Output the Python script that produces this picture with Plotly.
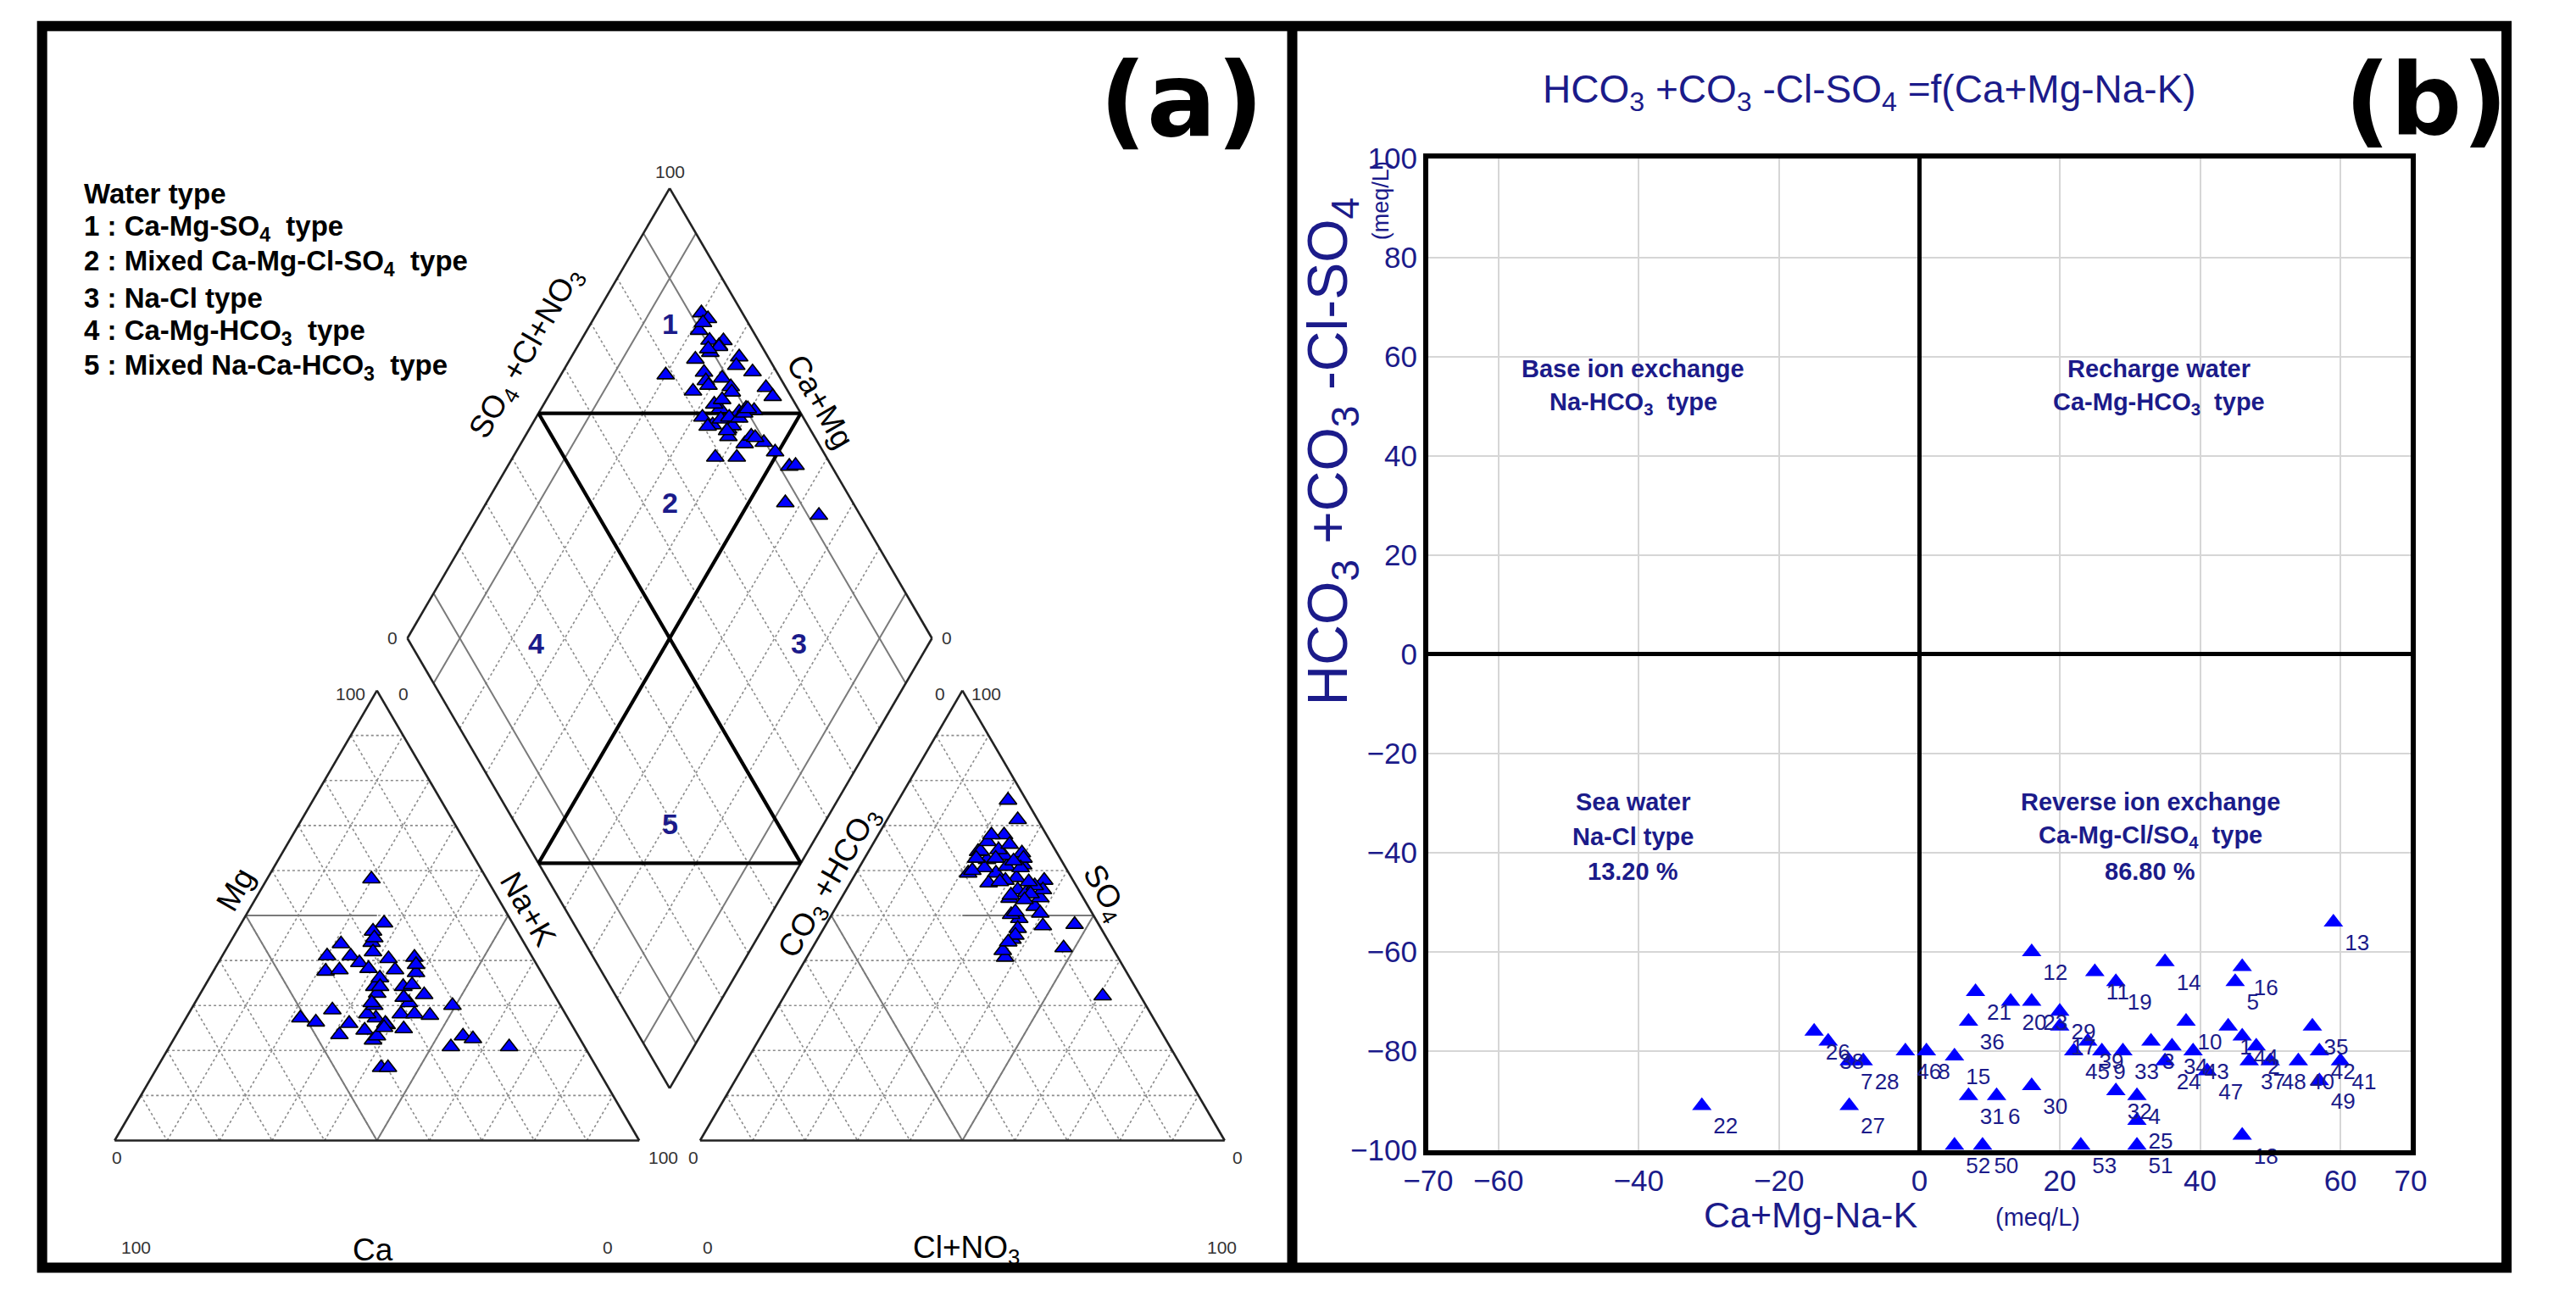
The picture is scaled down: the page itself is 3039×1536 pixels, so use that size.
import numpy as np
import plotly.graph_objects as go

W, H = 3039, 1536
NAVY = "#1b1b8a"
BLUE = "#0000ff"
FONT = "Liberation Sans, Arial, sans-serif"

# ---------------- Piper data (% of meq) ----------------
sample_id = list(range(1, 54))
ca_pct = [22.0, 51.0, 41.0, 34.5, 24.5, 38.2, 33.6, 27.5, 44.0, 27.6,
          29.0, 33.4, 36.6, 39.0, 28.0, 29.8, 45.4, 33.6, 37.8, 31.4,
          35.5, 31.4, 24.8, 42.3, 27.6, 40.1, 39.6, 35.3, 27.9, 38.4,
          28.6, 23.9, 41.1, 35.4, 32.5, 28.8, 26.0, 20.6, 25.5, 22.0,
          20.4, 14.4, 32.3, 22.5, 36.1, 35.7, 29.0, 32.5, 35.0, 48.5,
          23.0, 26.0, 39.8]
mg_pct = [58.1, 27.2, 37.6, 41.0, 48.3, 37.9, 39.5, 46.5, 29.0, 40.4,
          44.0, 34.2, 27.2, 41.0, 45.0, 41.9, 23.5, 32.7, 28.1, 36.1,
          30.0, 28.1, 32.4, 26.0, 37.9, 24.5, 22.3, 25.7, 34.2, 23.2,
          30.6, 37.3, 16.2, 26.0, 24.8, 28.1, 27.8, 30.0, 20.8, 23.2,
          22.6, 20.8, 34.2, 40.7, 25.1, 30.6, 31.8, 38.2, 43.7, 26.3,
          39.1, 34.6, 16.2]
nak_pct = [19.9, 21.8, 21.4, 24.5, 27.2, 23.9, 26.9, 26.0, 27.0, 32.0,
           27.0, 32.4, 36.2, 20.0, 27.0, 28.3, 31.1, 33.7, 34.1, 32.5,
           34.5, 40.5, 42.8, 31.7, 34.5, 35.4, 38.1, 39.0, 37.9, 38.4,
           40.8, 38.8, 42.7, 38.6, 42.7, 43.1, 46.2, 49.4, 53.7, 54.8,
           57.0, 64.8, 33.5, 36.8, 38.8, 33.7, 39.2, 29.3, 21.3, 25.2,
           37.9, 39.4, 44.0]
hco3_pct = [7.8, 7.2, 10.2, 9.3, 6.7, 14.1, 8.1, 10.5, 8.2, 5.5,
            13.9, 7.0, 4.6, 21.5, 18.1, 14.5, 11.1, 10.4, 14.9, 15.5,
            10.8, 3.8, 3.5, 19.2, 18.1, 15.9, 11.6, 9.9, 15.6, 14.4,
            8.6, 16.4, 14.1, 21.2, 17.1, 12.0, 10.3, 9.2, 8.1, 6.8,
            12.9, 7.9, 13.5, 14.1, 12.3, 19.2, 10.8, 14.5, 8.6, 10.5,
            16.0, 9.6, 11.4]
so4_pct = [61.2, 32.1, 52.0, 42.8, 63.9, 62.4, 67.9, 58.4, 53.9, 57.8,
           59.4, 62.7, 48.0, 40.7, 44.7, 49.3, 60.9, 63.3, 64.2, 60.6,
           64.6, 71.3, 75.6, 59.4, 60.0, 47.1, 55.7, 50.5, 50.2, 64.3,
           60.6, 57.2, 53.8, 42.2, 45.6, 66.4, 55.1, 62.1, 65.8, 55.7,
           57.8, 56.6, 54.5, 57.5, 62.7, 44.1, 47.7, 50.8, 57.5, 67.9,
           62.7, 54.8, 53.5]
cl_pct = [31.0, 60.7, 37.8, 47.9, 29.4, 23.5, 24.0, 31.1, 37.9, 36.7,
          26.7, 30.3, 47.4, 37.8, 37.2, 36.2, 28.0, 26.3, 20.9, 23.9,
          24.6, 24.9, 20.9, 21.4, 21.9, 37.0, 32.7, 39.6, 34.2, 21.3,
          30.8, 26.4, 32.1, 36.6, 37.3, 21.6, 34.6, 28.7, 26.1, 37.5,
          29.3, 35.5, 32.0, 28.4, 25.0, 36.7, 41.5, 34.7, 33.9, 21.6,
          21.3, 35.6, 35.1]

# ---------------- Chadha data (meq/L) ----------------
camg_minus_nak = [44, 48, 33, 31, 45, 11, -10, 1, 26, 38,
                  25, 16, 59, 35, 5, 46, 20, 46, 28, 13,
                  8, -31, 16, 35, 31, -15, -10, -8, 20, 16,
                  7, 28, 29, 36, 56, 7, 47, -13, 24, 54,
                  60, 57, 39, 46, 22, -2, 41, 50, 57, 9,
                  31, 5, 23]
hco3_minus_clso4 = [-75, -79, -78, -89, -66, -89, -82, -80, -80, -74,
                    -64, -60, -54, -62, -81, -63, -75, -97, -66, -70,
                    -68, -91, -70, -82, -94, -76, -91, -82, -72, -87,
                    -89, -88, -80, -79, -75, -74, -82, -78, -78, -82,
                    -82, -80, -80, -77, -80, -80, -84, -82, -86, -99,
                    -99, -99, -99]

legend_lines = ["Water type",
                "1 : Ca-Mg-SO<sub>4</sub>  type",
                "2 : Mixed Ca-Mg-Cl-SO<sub>4</sub>  type",
                "3 : Na-Cl type",
                "4 : Ca-Mg-HCO<sub>3</sub>  type",
                "5 : Mixed Na-Ca-HCO<sub>3</sub>  type"]

# ---------------- Piper geometry ----------------
S3 = np.sqrt(3) / 2
GAP = 11.6
OX = 100 + GAP
K = 6.29          # px per % unit
PX0, PY0 = 107, 1360


def tri_xy(a, b, c, ox=0.0):
    a = np.asarray(a, float); b = np.asarray(b, float); c = np.asarray(c, float)
    return ox + b + 0.5 * c, S3 * c


def dia_xy(camg, so4cl):
    camg = np.asarray(camg, float); so4cl = np.asarray(so4cl, float)
    return 100 + GAP / 2 + 0.5 * (so4cl - camg), S3 * GAP + S3 * (so4cl + camg)


class Seg:
    def __init__(self):
        self.x, self.y = [], []

    def add(self, p0, p1):
        self.x += [float(p0[0]), float(p1[0]), None]
        self.y += [float(p0[1]), float(p1[1]), None]


dashed, solid_gray, edges, thick = Seg(), Seg(), Seg(), Seg()

for ox in (0.0, OX):
    for p in range(10, 100, 10):
        q = 100 - p
        dashed.add(tri_xy(q, 0, p, ox), tri_xy(0, q, p, ox))
        dashed.add(tri_xy(p, 0, q, ox), tri_xy(p, q, 0, ox))
        dashed.add(tri_xy(q, p, 0, ox), tri_xy(0, p, q, ox))
    edges.add(tri_xy(100, 0, 0, ox), tri_xy(0, 100, 0, ox))
    edges.add(tri_xy(0, 100, 0, ox), tri_xy(0, 0, 100, ox))
    edges.add(tri_xy(0, 0, 100, ox), tri_xy(100, 0, 0, ox))

# cation triangle subdivisions
solid_gray.add(tri_xy(50, 0, 50), tri_xy(25, 25, 50))
solid_gray.add(tri_xy(50, 0, 50), tri_xy(50, 50, 0))
solid_gray.add(tri_xy(50, 50, 0), tri_xy(0, 50, 50))
# anion triangle subdivisions (mirrored)
solid_gray.add(tri_xy(0, 50, 50, OX), tri_xy(25, 25, 50, OX))
solid_gray.add(tri_xy(0, 50, 50, OX), tri_xy(50, 50, 0, OX))
solid_gray.add(tri_xy(50, 50, 0, OX), tri_xy(50, 0, 50, OX))

for p in range(10, 100, 10):
    if p == 50:
        continue
    target = solid_gray if p in (10, 90) else dashed
    target.add(dia_xy(p, 0), dia_xy(p, 100))
    target.add(dia_xy(0, p), dia_xy(100, p))
edges.add(dia_xy(0, 0), dia_xy(100, 0))
edges.add(dia_xy(100, 0), dia_xy(100, 100))
edges.add(dia_xy(100, 100), dia_xy(0, 100))
edges.add(dia_xy(0, 100), dia_xy(0, 0))
thick.add(dia_xy(50, 0), dia_xy(50, 100))
thick.add(dia_xy(0, 50), dia_xy(100, 50))
thick.add(dia_xy(100, 50), dia_xy(50, 100))
thick.add(dia_xy(50, 0), dia_xy(0, 50))

fig = go.Figure()
for seg, col, wd, dash in ((dashed, "#8c8c8c", 1.6, "dot"), (solid_gray, "#7a7a7a", 2.0, "solid"),
                           (edges, "#222222", 2.6, "solid"), (thick, "black", 4.2, "solid")):
    fig.add_trace(go.Scatter(x=seg.x, y=seg.y, mode="lines", xaxis="x", yaxis="y",
                             line=dict(color=col, width=wd, dash=dash), hoverinfo="skip"))

cx, cy = tri_xy(ca_pct, nak_pct, mg_pct)
ax_, ay_ = tri_xy(hco3_pct, cl_pct, so4_pct, OX)
camg = np.array(ca_pct) + np.array(mg_pct)
so4cl = np.array(so4_pct) + np.array(cl_pct)
dx, dy = dia_xy(camg, so4cl)
mk = dict(symbol="triangle-up", size=18, color=BLUE, line=dict(color="black", width=1.6))
for xx, yy in ((cx, cy), (ax_, ay_), (dx, dy)):
    fig.add_trace(go.Scatter(x=xx, y=yy, mode="markers", xaxis="x", yaxis="y", marker=mk,
                             text=sample_id, hoverinfo="text"))

# ---------------- Chadha panel ----------------
fig.add_trace(go.Scatter(x=camg_minus_nak, y=hco3_minus_clso4, mode="markers+text",
                         xaxis="x2", yaxis="y2", text=[str(s) for s in sample_id],
                         textposition="bottom right", cliponaxis=False,
                         textfont=dict(family=FONT, size=26, color=NAVY),
                         marker=dict(symbol="triangle-up", size=20, color=BLUE, line=dict(width=0))))

annotations = []


def ann_px(text, px, py, size, color="black", angle=0, xanchor="center", weight="normal", family=FONT):
    annotations.append(dict(text=text, x=px / W, y=1 - py / H, xref="paper", yref="paper",
                            showarrow=False, xanchor=xanchor, yanchor="middle", textangle=angle,
                            font=dict(family=family, size=size, color=color, weight=weight)))


def ann_data(text, x, y, size, color="black", angle=0, weight="normal"):
    annotations.append(dict(text=text, x=x, y=y, xref="x", yref="y", showarrow=False,
                            xanchor="center", yanchor="middle", textangle=angle,
                            font=dict(family=FONT, size=size, color=color, weight=weight)))


# legend block
for i, line in enumerate(legend_lines):
    ann_px(line, 68, 214 + i * 42, 33, weight="bold", xanchor="left")

# region numbers
for txt, (x, y) in {"1": (105.8, 157.1), "2": (105.8, 122.7), "3": (130.5, 95.6),
                    "4": (80.4, 95.6), "5": (105.8, 61.0)}.items():
    ann_data(txt, x, y, 34, color=NAVY, weight="bold")

# edge labels
ann_data("SO<sub>4</sub> +Cl+NO<sub>3</sub>", 78.5, 151.5, 37, angle=-60)
ann_data("Ca+Mg", 134.5, 142.3, 37, angle=60)
ann_data("Mg", 23.0, 48.3, 37, angle=-60)
ann_data("Na+K", 78.8, 44.5, 37, angle=60)
ann_data("CO<sub>3</sub> +HCO<sub>3</sub>", 136.3, 49.5, 37, angle=-60)
ann_data("SO<sub>4</sub>", 188.6, 47.5, 37, angle=60)
ann_data("Ca", 49.3, -21.0, 37)
ann_data("Cl+NO<sub>3</sub>", 162.3, -21.0, 37)

# tick labels
for txt, x, y in (("100", 105.8, 186.5), ("0", 53.0, 96.65), ("0", 158.7, 96.65),
                  ("0", 0.5, -3.2), ("100", 4.0, -20.5), ("0", 94.0, -20.5),
                  ("100", 104.6, -3.2), ("0", 110.4, -3.2), ("0", 113.0, -20.5),
                  ("100", 211.0, -20.5), ("0", 214.0, -3.2),
                  ("100", 45.0, 86.0), ("0", 55.0, 86.0), ("0", 157.3, 86.0), ("100", 166.2, 86.0)):
    ann_data(txt, x, y, 21, color="#333333")

ann_px("(a)", 1386, 101, 122, weight="bold", family="DejaVu Sans, Liberation Sans, sans-serif")
ann_px("(b)", 2878, 101, 118, weight="bold", family="DejaVu Sans, Liberation Sans, sans-serif")

# panel b texts
ann_px("HCO<sub>3</sub> +CO<sub>3</sub> -Cl-SO<sub>4</sub> =f(Ca+Mg-Na-K)", 2211, 91, 46, color=NAVY)
ann_px("HCO<sub>3</sub> +CO<sub>3</sub> -Cl-SO<sub>4</sub>", 1566, 526, 66, color=NAVY, angle=-90)
ann_px("(meq/L)", 1626, 222, 27, color=NAVY, angle=-90)
ann_px("Ca+Mg-Na-K", 2141, 1450, 43, color=NAVY)
ann_px("(meq/L)", 2413, 1453, 29, color=NAVY)
for lines, cxp, cyp in ((["Base ion exchange", "Na-HCO<sub>3</sub>  type"], 1928, 426),
                        (["Recharge water", "Ca-Mg-HCO<sub>3</sub>  type"], 2558, 426),
                        (["Sea water", "Na-Cl type", "13.20 %"], 1928, 950),
                        (["Reverse ion exchange", "Ca-Mg-Cl/SO<sub>4</sub>  type", "86.80 %"], 2548, 950)):
    for j, t in enumerate(lines):
        ann_px(t, cxp, cyp + j * 42, 29, color=NAVY, weight="bold")

shapes = [
    dict(type="rect", xref="paper", yref="paper", x0=20 / W, x1=2975 / W,
         y0=1 - 1514 / H, y1=1 - 11 / H, line=dict(color="black", width=12),
         fillcolor="rgba(0,0,0,0)", layer="above"),
    dict(type="line", xref="paper", yref="paper", x0=1519 / W, x1=1519 / W,
         y0=1 - 1514 / H, y1=1 - 11 / H, line=dict(color="black", width=12), layer="above"),
]

xa0, xa1 = 26, 1510
ya_top, ya_bot = 20, 1505
fig.update_layout(
    width=W, height=H, margin=dict(l=0, r=0, t=0, b=0), autosize=False,
    paper_bgcolor="white", plot_bgcolor="white", showlegend=False,
    xaxis=dict(domain=[xa0 / W, xa1 / W], range=[(xa0 - PX0) / K, (xa1 - PX0) / K],
               visible=False, anchor="y"),
    yaxis=dict(domain=[1 - ya_bot / H, 1 - ya_top / H], range=[(PY0 - ya_bot) / K, (PY0 - ya_top) / K],
               visible=False, anchor="x"),
    xaxis2=dict(domain=[1682 / W, 2860 / W], range=[-70, 70], anchor="y2",
                tickmode="array", tickvals=[-70, -60, -40, -20, 0, 20, 40, 60, 70],
                showgrid=True, gridcolor="#d6d6d6", gridwidth=1.5,
                zeroline=True, zerolinecolor="black", zerolinewidth=5,
                showline=True, mirror=True, linecolor="black", linewidth=6, ticks="",
                tickfont=dict(family=FONT, size=35, color=NAVY)),
    yaxis2=dict(domain=[1 - 1372 / H, 1 - 171 / H], range=[-100, 100], anchor="x2",
                tickmode="linear", tick0=-100, dtick=20,
                showgrid=True, gridcolor="#d6d6d6", gridwidth=1.5,
                zeroline=True, zerolinecolor="black", zerolinewidth=5,
                showline=True, mirror=True, linecolor="black", linewidth=6, ticks="",
                tickfont=dict(family=FONT, size=35, color=NAVY)),
    annotations=annotations, shapes=shapes,
)

fig.write_html("out.html", config={"displayModeBar": False},
               post_script="document.body.style.margin='0px';")
